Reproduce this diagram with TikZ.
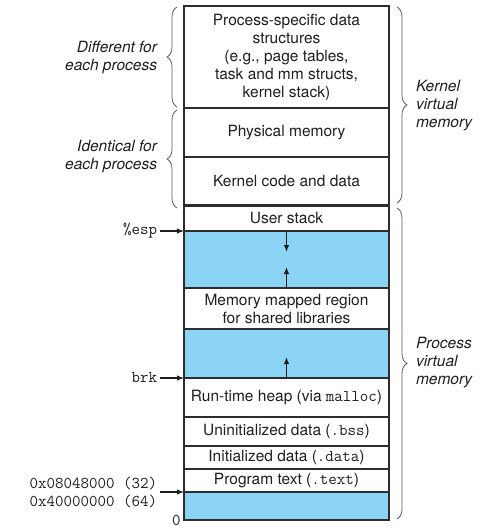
\documentclass[tikz,border=0pt]{standalone}
\usepackage{fontspec}
\setmainfont{TeX Gyre Heros}
\usetikzlibrary{decorations.pathreplacing,arrows.meta}
\definecolor{memblue}{RGB}{140,212,245}
\definecolor{framecol}{RGB}{45,45,45}
\definecolor{txt}{RGB}{30,30,30}
\definecolor{bracecol}{RGB}{90,90,90}
\newcommand\mymono[1]{{\fontsize{16.5}{18}\selectfont\ttfamily #1}}
\begin{document}
\begin{tikzpicture}[x=1pt,y=-1pt,
  every node/.style={font=\fontsize{15.5}{18}\selectfont, text=txt, inner sep=0pt, outer sep=0pt},
  region/.style={draw=framecol, line width=1.1pt, minimum width=205pt, anchor=north west, align=center},
  freeregion/.style={region, fill=memblue},
  lbl/.style={align=right, anchor=east, font=\fontsize{15.5}{18}\selectfont\itshape},
  rlbl/.style={align=left, anchor=west, font=\fontsize{15.5}{18}\selectfont\itshape},
  monolbl/.style={align=right, anchor=east, font=\fontsize{16.5}{18}\selectfont\ttfamily},
  ptr/.style={-{Latex[length=7pt,width=5.5pt]}, line width=1.2pt, draw=txt},
  brc/.style={decorate, decoration={brace, amplitude=10pt}, draw=bracecol, line width=0.8pt}]
\useasboundingbox (0,0) rectangle (486,530);

% memory regions
\node[region, minimum height=102pt] (psd) at (184,6) {Process-specific data\\structures\\(e.g., page tables,\\task and mm structs,\\kernel stack)};
\node[region, minimum height=49pt] (phys) at (psd.south west) {Physical memory};
\node[region, minimum height=48.5pt] (kcode) at (phys.south west) {Kernel code and data};
\node[region, minimum height=25.5pt] (ustack) at (kcode.south west) {User stack};
\node[freeregion, minimum height=57pt] (free1) at (ustack.south west) {};
\node[region, minimum height=41pt] (mmap) at (free1.south west) {Memory mapped region\\for shared libraries};
\node[freeregion, minimum height=49pt] (free2) at (mmap.south west) {};
\node[region, minimum height=39pt] (heap) at (free2.south west) {Run-time heap (via \mymono{malloc})};
\node[region, minimum height=29pt] (bss) at (heap.south west) {Uninitialized data (\mymono{.bss})};
\node[region, minimum height=23pt] (data) at (bss.south west) {Initialized data (\mymono{.data})};
\node[region, minimum height=23pt] (text) at (data.south west) {Program text (\mymono{.text})};
\node[freeregion, minimum height=28pt] (free3) at (text.south west) {};

% kernel / user boundary
\draw[line width=3.5pt, framecol] (kcode.south west) -- (kcode.south east);

% growth arrows
\coordinate (downTip) at (286.5,252);
\coordinate (upTipA) at (286.5,267);
\coordinate (upTipB) at (286.5,357);
\draw[ptr] (ustack.south) -- (downTip);
\draw[ptr] (free1.south) -- (upTipA);
\draw[ptr] (free2.south) -- (upTipB);

% left pointer labels
\node[monolbl] (esp) at (157,231) {\%esp};
\node[monolbl] (brk) at (157,378) {brk};
\node[monolbl] (addr) at (157,492) {0x08048000 (32)\\0x40000000 (64)};
\node[monolbl] (zero) at (180.5,520) {0};
\draw[ptr] ([xshift=3pt]esp.east) -- (free1.north west);
\draw[ptr] ([xshift=3pt]brk.east) -- (heap.north west);
\draw[ptr] ([xshift=3pt]addr.east) -- (text.south west);

% left brace labels
\node[lbl] (diff) at (157,57) {Different for\\each process};
\node[lbl] (ident) at (157,156) {Identical for\\each process};

% right brace labels
\node[rlbl] (kvm) at (416,106) {Kernel\\virtual\\memory};
\node[rlbl] (pvm) at (416,363) {Process\\virtual\\memory};

% braces
\coordinate (lbA1) at (177,107);
\coordinate (lbA2) at (177,7);
\coordinate (lbB1) at (177,208);
\coordinate (lbB2) at (177,110);
\coordinate (rbA1) at (397,7);
\coordinate (rbA2) at (397,203);
\coordinate (rbB1) at (397,208);
\coordinate (rbB2) at (397,519);
\draw[brc] (lbA1) -- (lbA2);
\draw[brc] (lbB1) -- (lbB2);
\draw[brc] (rbA1) -- (rbA2);
\draw[brc] (rbB1) -- (rbB2);
\end{tikzpicture}
\end{document}
